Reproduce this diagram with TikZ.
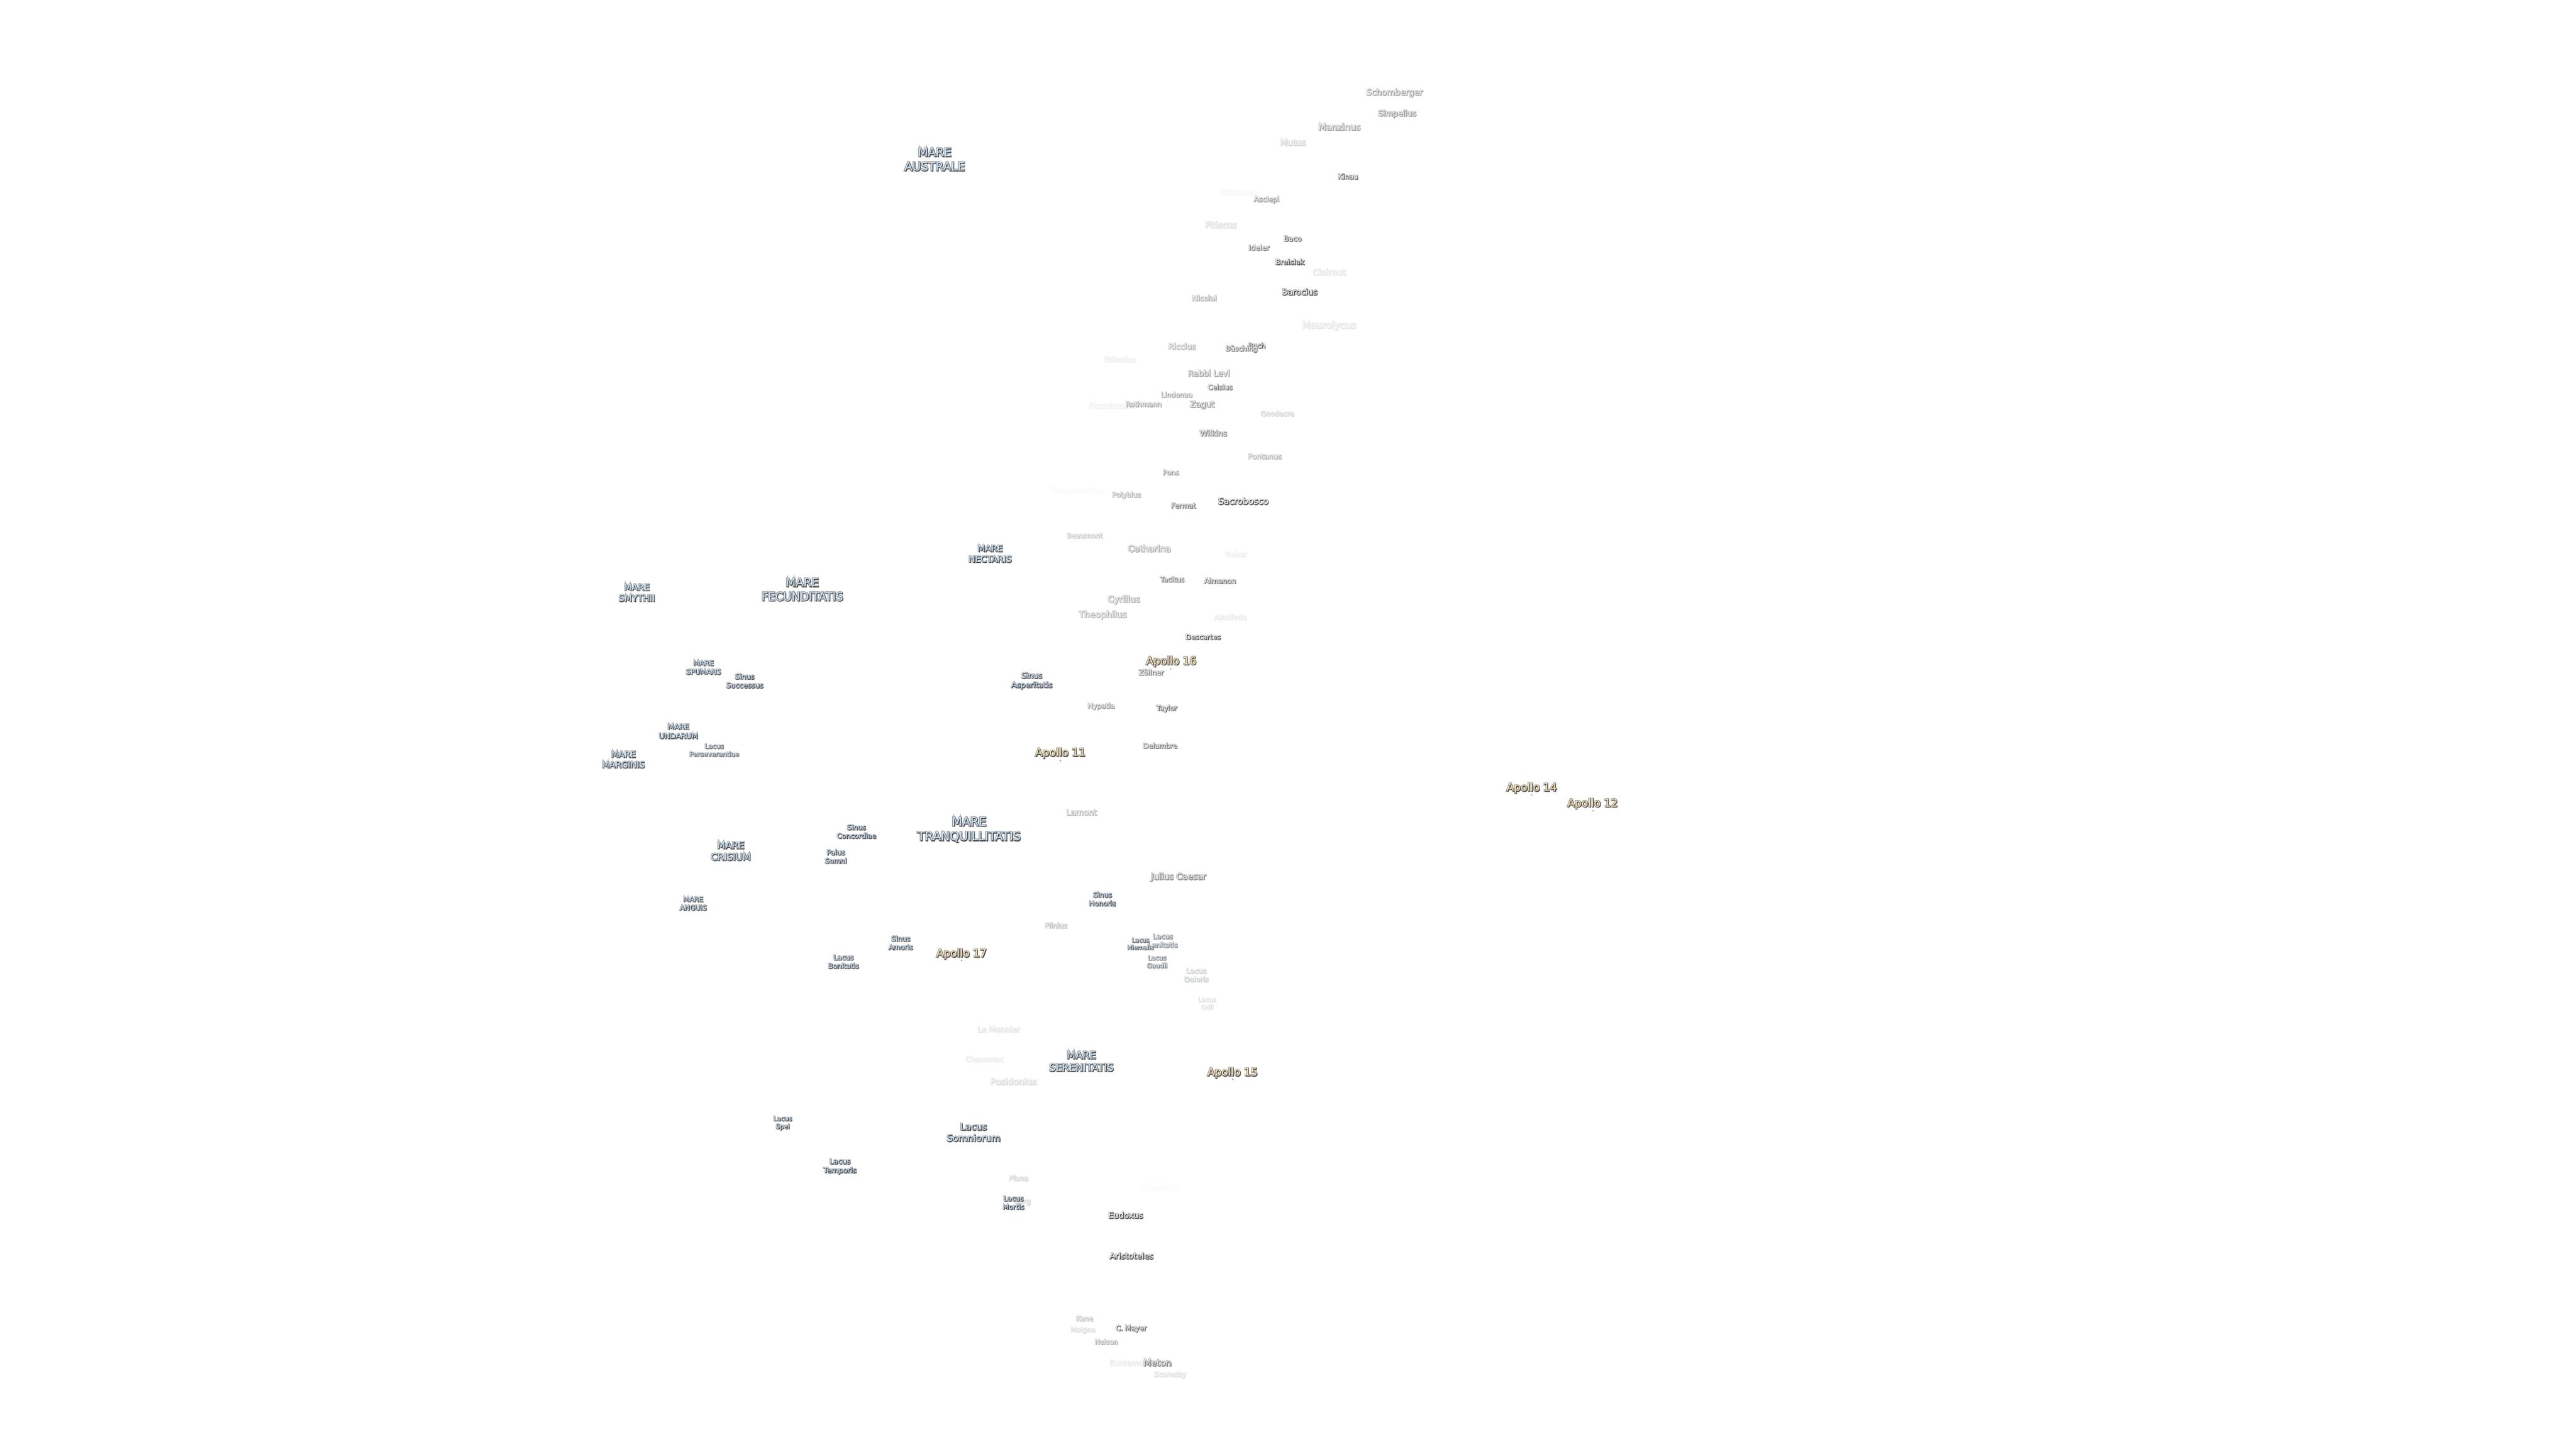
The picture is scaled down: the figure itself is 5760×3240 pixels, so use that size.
\documentclass[tikz,border=0pt]{standalone}
\usepackage{fontspec}
\setmainfont{DejaVu Sans}
\newfontfamily\halofont[FakeBold=15]{DejaVu Sans}
\newfontfamily\shadefont[FakeBold=3]{DejaVu Sans}
\definecolor{seablue}{RGB}{205,230,252}
\definecolor{apollotan}{RGB}{255,228,176}
\newcommand{\halo}[1]{\leavevmode\rlap{\halofont\color{lblhalo}#1}\rlap{\kern0.35pt\raisebox{-0.35pt}{\shadefont\color{lblshade}#1}}{\color{lblfill}#1}}
\newcommand{\setfade}[1]{%
  \pgfmathsetmacro{\lblh}{38*#1/100}\pgfmathsetmacro{\lbls}{68*#1/100}%
  \colorlet{lblhalo}{black!\lblh}\colorlet{lblshade}{black!\lbls}}
\newcommand{\setinner}[1]{\pgfmathsetmacro{\lbli}{#1*(100-#1)/400}\colorlet{lblfill}{black!\lbli}}
\tikzset{
  lbl/.style={inner sep=0pt,align=center,yshift=-0.3pt,font={\fontsize{#1}{#1}\selectfont\baselineskip=1.22\baselineskip\relax}},
  crater/.style 2 args={lbl={#1},execute at begin node={\setfade{#2}\setinner{#2}}},
  sea/.style 2 args={lbl={#1},execute at begin node={\setfade{#2}\colorlet{lblfill}{seablue!#2!white}}},
  apollo/.style={lbl={6},execute at begin node={\setfade{100}\colorlet{lblfill}{apollotan}}},
  apollodot/.style={circle,inner sep=0pt,minimum size=0.8pt,fill=apollotan!60!black}
}
\begin{document}
\begin{tikzpicture}[x=0.25pt,y=-0.25pt]
  \useasboundingbox (0,0) rectangle (5760,3240);
  % south
  \node[crater={4.7}{50}] (schomberger) at (3118,207) {\halo{Schomberger}};
  \node[crater={4.4}{60}] (simpelius) at (3124,254) {\halo{Simpelius}};
  \node[crater={5}{50}] (manzinus) at (2995,283) {\halo{Manzinus}};
  \node[crater={4.7}{25}] (mutus) at (2891,318) {\halo{Mutus}};
  \node[crater={4}{80}] (kinau) at (3014,394) {\halo{Kinau}};
  \node[crater={4.9}{5}] (hommel) at (2769,429) {\halo{Hommel}};
  \node[crater={4}{55}] (asclepi) at (2832,446) {\halo{Asclepi}};
  \node[crater={4.7}{20}] (pitiscus) at (2730,502) {\halo{Pitiscus}};
  \node[crater={4.1}{85}] (baco) at (2890,533) {\halo{Baco}};
  \node[crater={4.1}{70}] (ideler) at (2815,553) {\halo{Ideler}};
  \node[crater={4.1}{100}] (breislak) at (2884,585) {\halo{Breislak}};
  \node[crater={4.7}{15}] (clairaut) at (2972,608) {\halo{Clairaut}};
  \node[crater={4.6}{100}] (barocius) at (2906,652) {\halo{Barocius}};
  \node[crater={4.1}{45}] (nicolai) at (2693,666) {\halo{Nicolai}};
  \node[crater={5.3}{15}] (maurolycus) at (2972,728) {\halo{Maurolycus}};
  \node[crater={4.4}{40}] (riccius) at (2643,774) {\halo{Riccius}};
  \node[crater={3.9}{90}] (buch) at (2810,772) {\halo{Buch}};
  \node[crater={3.9}{75}] (busching) at (2776,780) {\halo{Büsching}};
  \node[crater={4}{10}] (stiborius) at (2504,803) {\halo{Stiborius}};
  \node[crater={4.5}{50}] (rabbilevi) at (2703,834) {\halo{Rabbi Levi}};
  \node[crater={3.9}{70}] (celsius) at (2728,865) {\halo{Celsius}};
  \node[crater={3.8}{50}] (lindenau) at (2631,882) {\halo{Lindenau}};
  \node[crater={4.5}{8}] (piccolomini) at (2485,906) {\halo{Piccolomini}};
  \node[crater={3.9}{50}] (rothmann) at (2557,903) {\halo{Rothmann}};
  \node[crater={4.6}{60}] (zagut) at (2688,905) {\halo{Zagut}};
  \node[crater={3.9}{25}] (goodacre) at (2856,924) {\halo{Goodacre}};
  \node[crater={4.3}{70}] (wilkins) at (2713,968) {\halo{Wilkins}};
  \node[crater={4.1}{40}] (pontanus) at (2828,1020) {\halo{Pontanus}};
  \node[crater={3.8}{55}] (pons) at (2618,1056) {\halo{Pons}};
  \node[crater={5}{3}] (fracastorius) at (2410,1096) {\halo{Fracastorius}};
  \node[crater={3.9}{45}] (polybius) at (2519,1107) {\halo{Polybius}};
  \node[crater={3.9}{75}] (fermat) at (2646,1130) {\halo{Fermat}};
  \node[crater={4.9}{100}] (sacrobosco) at (2780,1120) {\halo{Sacrobosco}};
  \node[crater={3.9}{30}] (beaumont) at (2425,1197) {\halo{Beaumont}};
  \node[crater={4.9}{50}] (catharina) at (2570,1226) {\halo{Catharina}};
  \node[crater={4}{10}] (geber) at (2764,1239) {\halo{Geber}};
  \node[crater={3.9}{75}] (tacitus) at (2621,1295) {\halo{Tacitus}};
  \node[crater={4}{80}] (almanon) at (2728,1298) {\halo{Almanon}};
  \node[crater={4.9}{45}] (cyrillus) at (2513,1341) {\halo{Cyrillus}};
  \node[crater={4.9}{40}] (theophilus) at (2466,1375) {\halo{Theophilus}};
  \node[crater={4.1}{12}] (abulfeda) at (2751,1379) {\halo{Abulfeda}};
  \node[crater={3.9}{100}] (descartes) at (2690,1424) {\halo{Descartes}};
  \node[crater={4}{70}] (zollner) at (2574,1503) {\halo{Zöllner}};
  \node[crater={3.9}{55}] (hypatia) at (2462,1579) {\halo{Hypatia}};
  \node[crater={3.9}{85}] (taylor) at (2609,1584) {\halo{Taylor}};
  \node[crater={3.9}{75}] (delambre) at (2594,1667) {\halo{Delambre}};
  \node[crater={4.5}{40}] (lamont) at (2418,1816) {\halo{Lamont}};
  % north
  \node[crater={4.8}{65}] (caesar) at (2635,1961) {\halo{Julius Caesar}};
  \node[crater={3.9}{35}] (plinius) at (2361,2069) {\halo{Plinius}};
  \node[crater={4.3}{15}] (lemonnier) at (2233,2301) {\halo{Le Monnier}};
  \node[crater={4}{12}] (chacornac) at (2201,2368) {\halo{Chacornac}};
  \node[crater={4.9}{20}] (posidonius) at (2266,2418) {\halo{Posidonius}};
  \node[crater={3.9}{25}] (plana) at (2278,2634) {\halo{Plana}};
  \node[crater={4.5}{2}] (alexander) at (2592,2656) {\halo{Alexander}};
  \node[crater={3.9}{25}] (burg) at (2286,2687) {\halo{Bürg}};
  \node[crater={4.6}{95}] (eudoxus) at (2517,2717) {\halo{Eudoxus}};
  \node[crater={4.6}{95}] (aristoteles) at (2530,2808) {\halo{Aristoteles}};
  \node[crater={3.8}{35}] (kane) at (2425,2948) {\halo{Kane}};
  \node[crater={3.8}{20}] (moigno) at (2421,2974) {\halo{Moigno}};
  \node[crater={3.9}{85}] (cmayer) at (2529,2971) {\halo{C. Mayer}};
  \node[crater={3.8}{45}] (nelson) at (2474,3000) {\halo{Nelson}};
  \node[crater={4.3}{12}] (euctemon) at (2524,3047) {\halo{Euctemon}};
  \node[crater={5}{75}] (meton) at (2588,3047) {\halo{Meton}};
  \node[crater={3.9}{20}] (scoresby) at (2616,3074) {\halo{Scoresby}};
  % seas and lakes
  \node[sea={6.5}{100}] (australe) at (2090,356) {\halo{MARE}\\\halo{AUSTRALE}};
  \node[sea={4.9}{100}] (nectaris) at (2214,1238) {\halo{MARE}\\\halo{NECTARIS}};
  \node[sea={5}{100}] (smythii) at (1424,1325) {\halo{MARE}\\\halo{SMYTHII}};
  \node[sea={6.4}{100}] (fecunditatis) at (1794,1318) {\halo{MARE}\\\halo{FECUNDITATIS}};
  \node[sea={4}{100}] (spumans) at (1573,1492) {\halo{MARE}\\\halo{SPUMANS}};
  \node[sea={4}{100}] (successus) at (1665,1522) {\halo{Sinus}\\\halo{Successus}};
  \node[sea={4.3}{100}] (asperitatis) at (2307,1522) {\halo{Sinus}\\\halo{Asperitatis}};
  \node[sea={4.2}{100}] (undarum) at (1517,1635) {\halo{MARE}\\\halo{UNDARUM}};
  \node[sea={3.7}{85}] (perseverantiae) at (1597,1677) {\halo{Lacus}\\\halo{Perseverantiae}};
  \node[sea={4.8}{100}] (marginis) at (1394,1698) {\halo{MARE}\\\halo{MARGINIS}};
  \node[sea={6.7}{100}] (tranquillitatis) at (2167,1855) {\halo{MARE}\\\halo{TRANQUILLITATIS}};
  \node[sea={3.9}{100}] (concordiae) at (1915,1859) {\halo{Sinus}\\\halo{Concordiae}};
  \node[sea={5.3}{100}] (crisium) at (1634,1903) {\halo{MARE}\\\halo{CRISIUM}};
  \node[sea={3.9}{100}] (somni) at (1869,1915) {\halo{Palus}\\\halo{Somni}};
  \node[sea={3.9}{100}] (honoris) at (2465,2010) {\halo{Sinus}\\\halo{Honoris}};
  \node[sea={3.9}{100}] (anguis) at (1550,2020) {\halo{MARE}\\\halo{ANGUIS}};
  \node[sea={3.9}{65}] (lenitatis) at (2600,2103) {\halo{Lacus}\\\halo{Lenitatis}};
  \node[sea={3.4}{90}] (hiemalis) at (2550,2110) {\halo{Lacus}\\\halo{Hiemalis}};
  \node[sea={3.9}{100}] (amoris) at (2014,2108) {\halo{Sinus}\\\halo{Amoris}};
  \node[sea={3.9}{100}] (bonitatis) at (1886,2150) {\halo{Lacus}\\\halo{Bonitatis}};
  \node[sea={3.6}{70}] (gaudii) at (2587,2150) {\halo{Lacus}\\\halo{Gaudii}};
  \node[sea={3.9}{30}] (doloris) at (2675,2180) {\halo{Lacus}\\\halo{Doloris}};
  \node[sea={3.5}{18}] (odii) at (2699,2243) {\halo{Lacus}\\\halo{Odii}};
  \node[sea={5.7}{100}] (serenitatis) at (2418,2373) {\halo{MARE}\\\halo{SERENITATIS}};
  \node[sea={3.6}{100}] (spei) at (1750,2511) {\halo{Lacus}\\\halo{Spei}};
  \node[sea={5.2}{100}] (somniorum) at (2177,2532) {\halo{Lacus}\\\halo{Somniorum}};
  \node[sea={4.1}{100}] (temporis) at (1878,2608) {\halo{Lacus}\\\halo{Temporis}};
  \node[sea={3.9}{100}] (mortis) at (2266,2689) {\halo{Lacus}\\\halo{Mortis}};
  % landing sites
  \node[apollo] (apollo16) at (2619,1479) {\halo{Apollo 16}};
  \node[apollodot] (site16) at (2618,1496) {};
  \node[apollo] (apollo11) at (2371,1684) {\halo{Apollo 11}};
  \node[apollodot] (site11) at (2371,1701) {};
  \node[apollo] (apollo14) at (3425,1762) {\halo{Apollo 14}};
  \node[apollodot] (site14) at (3425,1778) {};
  \node[apollo] (apollo12) at (3561,1797) {\halo{Apollo 12}};
  \node[apollodot] (site12) at (3562,1813) {};
  \node[apollo] (apollo17) at (2150,2133) {\halo{Apollo 17}};
  \node[apollodot] (site17) at (2150,2148) {};
  \node[apollo] (apollo15) at (2756,2399) {\halo{Apollo 15}};
  \node[apollodot] (site15) at (2756,2414) {};
\end{tikzpicture}
\end{document}
